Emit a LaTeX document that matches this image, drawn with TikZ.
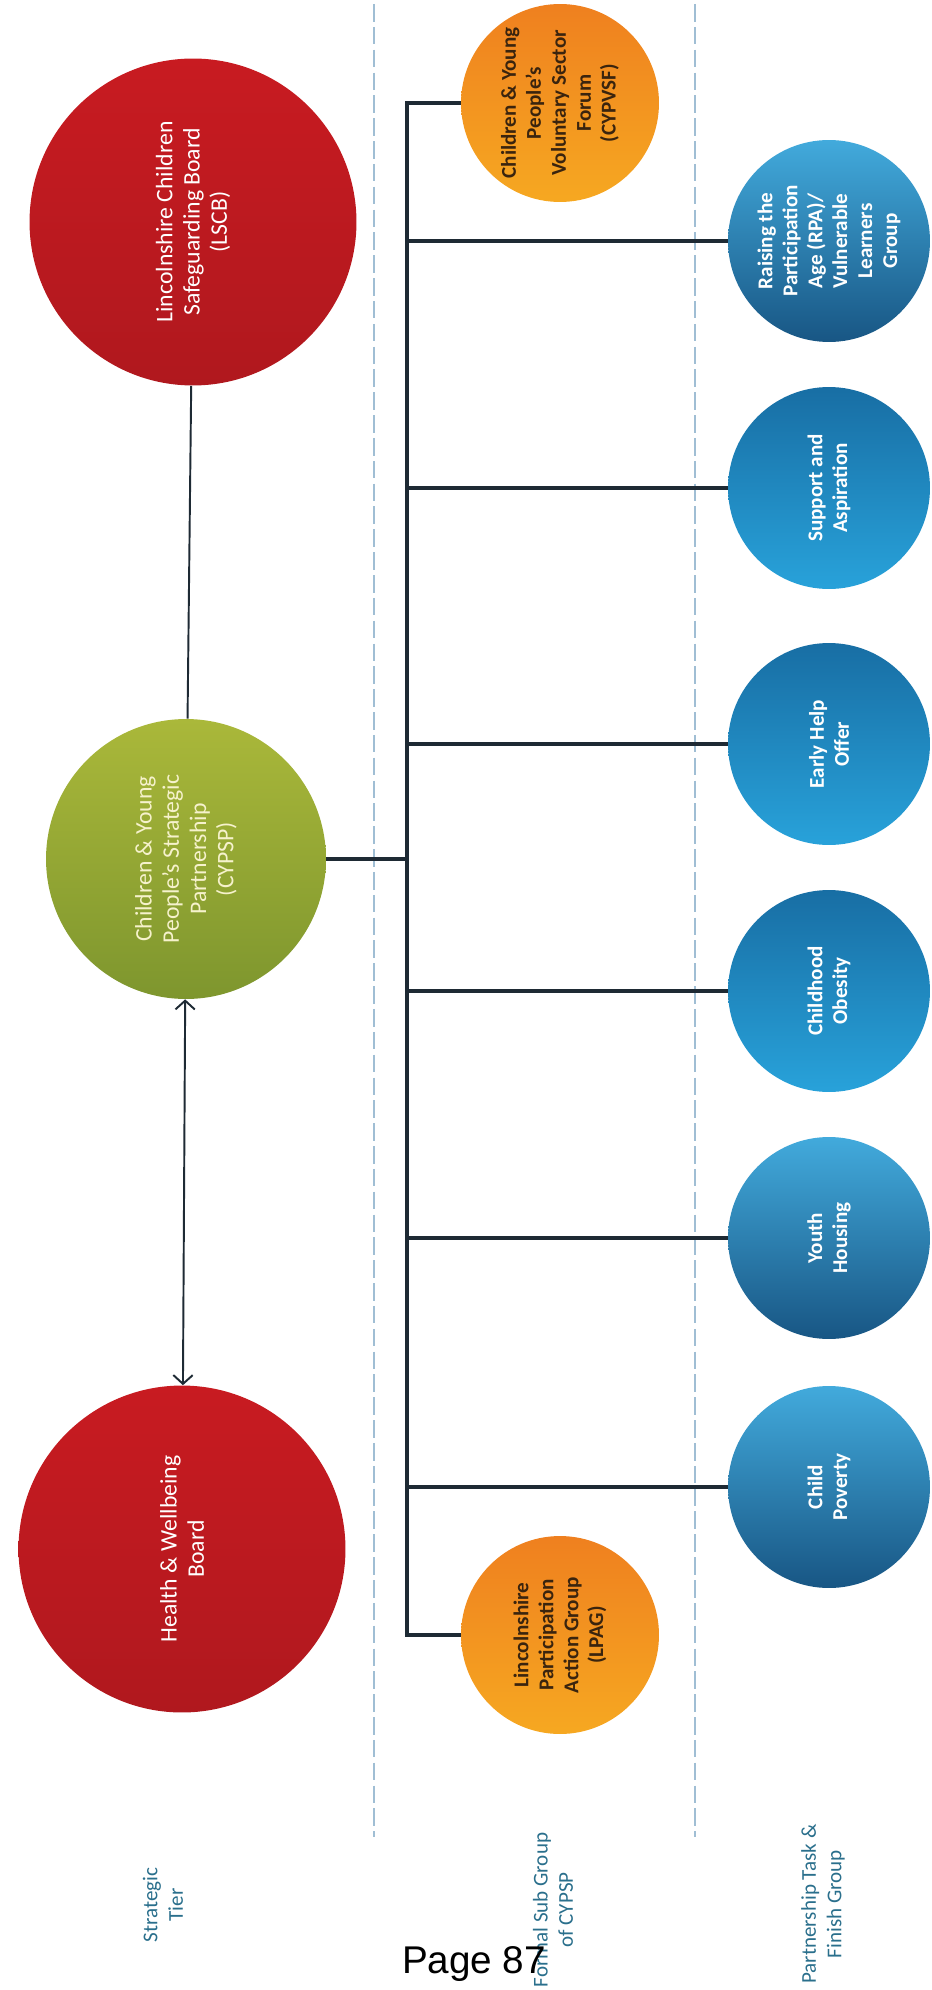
\documentclass[tikz,border=0pt]{standalone}
\usepackage{fontspec}
\setmainfont{Carlito}
\newfontfamily\pagefont{Liberation Sans}
\usetikzlibrary{arrows.meta}

\definecolor{tierred}{RGB}{200,27,33}
\definecolor{tierreddark}{RGB}{176,24,30}
\definecolor{partgreen}{RGB}{170,184,58}
\definecolor{partgreendark}{RGB}{126,150,46}
\definecolor{subtop}{RGB}{239,128,31}
\definecolor{subbot}{RGB}{246,168,33}
\definecolor{bluelight}{RGB}{66,170,220}
\definecolor{bluedark}{RGB}{24,86,132}
\definecolor{bluemid}{RGB}{24,110,164}
\definecolor{bluebright}{RGB}{40,162,218}
\definecolor{linkcol}{RGB}{30,42,52}
\definecolor{labelcol}{RGB}{42,111,140}
\definecolor{dividercol}{RGB}{160,190,212}
\definecolor{subtext}{RGB}{58,36,14}
\definecolor{greentext}{RGB}{246,242,204}

\tikzset{
  bubble/.style={circle, rotate=90, align=center, inner sep=0pt},
  tier/.style={bubble, minimum size=6.54cm, top color=tierred, bottom color=tierreddark,
    text=white, font=\fontsize{13.5}{15.5}\selectfont},
  partner/.style={bubble, minimum size=5.6cm, top color=partgreen, bottom color=partgreendark,
    text=greentext, font=\fontsize{13.5}{15.5}\selectfont},
  subgroup/.style={bubble, minimum size=3.96cm, top color=subtop, bottom color=subbot,
    text=subtext, font=\bfseries\fontsize{12}{14.2}\selectfont},
  task/.style={bubble, minimum size=4.04cm, text=white, font=\bfseries\fontsize{12}{14.2}\selectfont},
  lighttop/.style={task, top color=bluelight, bottom color=bluedark},
  darktop/.style={task, top color=bluemid, bottom color=bluebright},
  link/.style={draw=linkcol, line width=1.8pt},
  tierlink/.style={draw=linkcol, line width=1.1pt},
  divider/.style={draw=dividercol, line width=0.6pt, dash pattern=on 10pt off 3pt},
  tierlabel/.style={rotate=90, align=center, text=labelcol, font=\fontsize{12}{14.5}\selectfont}
}

\begin{document}
\begin{tikzpicture}[x=0.02cm, y=-0.02cm]
  \useasboundingbox (0,0) rectangle (931,1990);

  \draw[divider] (374,4) -- (374,1837);
  \draw[divider] (695,4) -- (695,1837);

  \node[tier] (lscb) at (193,222) {Lincolnshire Children\\Safeguarding Board\\(LSCB)};
  \node[partner] (cypsp) at (186,859) {Children \& Young\\People's Strategic\\Partnership\\(CYPSP)};
  \node[tier] (hwb) at (182,1549) {Health \& Wellbeing\\Board};

  \node[subgroup] (cypvsf) at (560,103) {Children \& Young\\People's\\Voluntary Sector\\Forum\\(CYPVSF)};
  \node[subgroup] (lpag) at (560,1635) {Lincolnshire\\Participation\\Action Group\\(LPAG)};

  \node[lighttop] (rpa) at (829,241) {Raising the\\Participation\\Age (RPA)/\\Vulnerable\\Learners\\Group};
  \node[darktop] (supp) at (829,488) {Support and\\Aspiration};
  \node[darktop] (help) at (829,744) {Early Help\\Offer};
  \node[darktop] (obes) at (829,991) {Childhood\\Obesity};
  \node[lighttop] (house) at (829,1238) {Youth\\Housing};
  \node[lighttop] (pov) at (829,1487) {Child\\Poverty};

  \coordinate (bustop) at (407,103);
  \coordinate (busend) at (407,1635);
  \draw[link] (cypvsf) -- (bustop) -- (busend) -- (lpag);
  \draw[link] (cypsp) -- (bustop |- cypsp);
  \foreach \t in {rpa,supp,help,obes,house,pov}
    \draw[link] (bustop |- \t) -- (\t);

  \draw[tierlink] (lscb) -- (cypsp);
  \draw[tierlink, {Straight Barb[length=5pt,width=11pt]}-{Straight Barb[length=5pt,width=11pt]}] (cypsp) -- (hwb);

  \node[tierlabel] (strat) at (163,1905) {Strategic\\Tier};
  \node[tierlabel] (formal) at (553,1910) {Formal Sub Group\\of CYPSP};
  \node[tierlabel] (taskgrp) at (823,1904) {Partnership Task \&\\Finish Group};
  \node[anchor=base, font=\pagefont\fontsize{22}{26}\selectfont] (page) at (474,1973) {Page 87};
\end{tikzpicture}
\end{document}
